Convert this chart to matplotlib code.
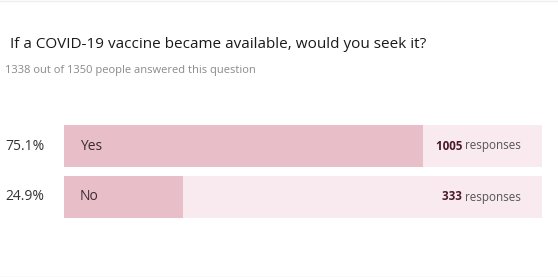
import matplotlib
matplotlib.use("Agg")
import matplotlib.pyplot as plt

title = "If a COVID-19 vaccine became available, would you seek it?"
subtitle = "1338 out of 1350 people answered this question"
categories = ["Yes", "No"]
percentages = [75.1, 24.9]
responses = [1005, 333]
pct_labels = ["75.1%", "24.9%"]

W, H = 558, 277
FONT = "Open Sans"
plt.rcParams['font.family'] = [FONT, 'DejaVu Sans']

fig = plt.figure(figsize=(W / 100, H / 100), dpi=100)
fig.patch.set_facecolor("white")

def fx(px):
    return px / W

def fy(py):
    return 1 - py / H

# frame lines top/bottom
fig.add_artist(plt.Line2D([0, 1], [fy(0.5), fy(0.5)], color="#eeeeee", lw=1))
fig.add_artist(plt.Line2D([0, 1], [fy(276.5), fy(276.5)], color="#e6e6e6", lw=1))

fig.text(fx(10), fy(45), title, fontsize=11, color="#1a1a1a", va="center", ha="left")
fig.text(fx(5), fy(70), subtitle, fontsize=8, color="#8a8a8a", va="center", ha="left")

left, right, top, bottom = 64, 542, 125, 218
ax = fig.add_axes([fx(left), fy(bottom), fx(right - left), (bottom - top) / H])
h = 42 / 51
ypos = list(range(len(categories)))
ax.barh(ypos, [100] * len(categories), height=h, color="#f8eaee", edgecolor="none")
ax.barh(ypos, percentages, height=h, color="#e8bec8", edgecolor="none")
ax.set_xlim(0, 100)
ax.set_ylim(len(categories) - 1 + h / 2, -h / 2)
ax.axis("off")

for y, cat, pl, n in zip(ypos, categories, pct_labels, responses):
    ax.annotate(pl, xy=(5, y), xycoords=("figure pixels", "data"), ha="left", va="center",
                fontsize=10, color="#333333")
    ax.annotate(cat, xy=(0, y), xycoords="data", xytext=(16 * 0.72, 0), textcoords="offset points",
                ha="left", va="center", fontsize=10, color="#3b2b31")
    t = ax.annotate("responses", xy=(1, y), xycoords=("axes fraction", "data"),
                    xytext=(-21 * 0.72, 0), textcoords="offset points",
                    ha="right", va="center", fontsize=8.4, color="#555555")
    ax.annotate(str(n) + " ", xy=(0, 0.5), xycoords=t, ha="right", va="center",
                fontsize=8.4, fontweight="bold", color="#4a1a2c")

fig.savefig("out.png", dpi=100, facecolor="white")
